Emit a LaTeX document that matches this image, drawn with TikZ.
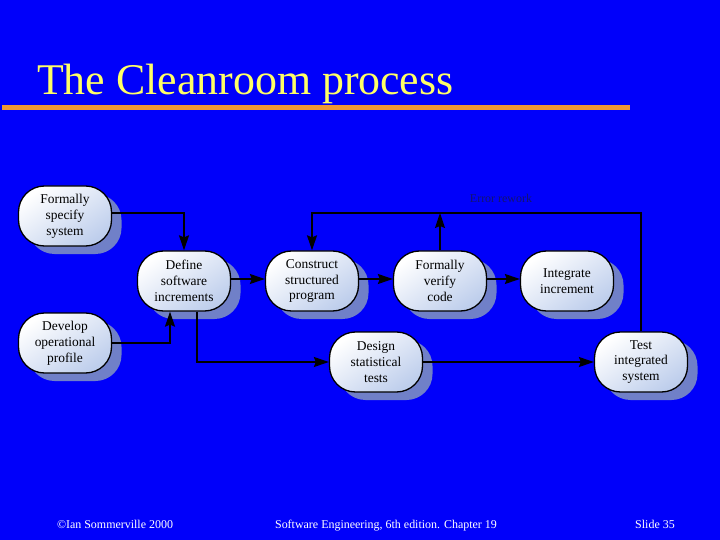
\documentclass[tikz,border=0pt]{standalone}
\usepackage{fontspec}
\setmainfont{Liberation Serif}
\usetikzlibrary{arrows.meta}
\usetikzlibrary{shadows}
\definecolor{slide-blue}{RGB}{0, 0, 250}
\definecolor{title-yellow}{RGB}{255, 255, 102}
\definecolor{rule-orange}{RGB}{238, 152, 52}
\definecolor{box-blue}{RGB}{190, 206, 236}
\definecolor{shade-blue}{RGB}{112, 128, 200}
\definecolor{label-navy}{RGB}{20, 20, 110}

\begin{document}
\begin{tikzpicture}[x=1bp, y=-1bp,
    stage/.style={draw=black, line width=1.3bp, rounded corners=26bp,
        minimum width=93bp, minimum height=60bp, align=center, inner sep=1bp,
        top color=white, bottom color=box-blue, shading angle=35,
        font=\fontsize{13.5}{16}\selectfont,
        drop shadow={shadow xshift=10bp, shadow yshift=-8bp, fill=shade-blue, opacity=1}},
    flow/.style={line width=1.5bp, -{Stealth[length=15bp, width=10bp, inset=2bp]}},
    foot/.style={text=white, anchor=base, inner sep=0, font=\fontsize{12}{14}\selectfont}]
                \useasboundingbox (0, 0) rectangle (720, 540);
                \fill[slide-blue] (0, 0) rectangle (720, 540);
                \node[anchor=base west, inner sep=0, text=title-yellow, font=\fontsize{44}{48}\selectfont] (title) at (37, 95) {The Cleanroom process};
                \fill[rule-orange] (2, 105) rectangle (630, 110);
                \node[stage] (spec) at (65, 216) {Formally\\specify\\system};
                \node[stage] (dev) at (65, 343) {Develop\\operational\\profile};
                \node[stage] (defn) at (184, 281) {Define\\software\\increments};
                \node[stage] (constr) at (312, 281) {Construct\\structured\\program};
                \node[stage] (verify) at (440, 281) {Formally\\verify\\code};
                \node[stage] (integ) at (567, 281) {Integrate\\increment};
                \node[stage] (design) at (376, 362) {Design\\statistical\\tests};
                \node[stage] (test) at (641, 362) {Test\\integrated\\system};
                \coordinate (rework) at (641, 213);
                \node[text=label-navy, font=\fontsize{12}{14}\selectfont] (lbl) at (501, 198) {Error rework};
                \draw[flow] (spec.east |- 0, 213) -| (defn.north);
                \draw[flow] (dev.east) -| ([xshift=-14bp]defn.south);
                \draw[flow] ([xshift=13bp]defn.south) |- (design.west);
                \draw[flow] (defn.east |- 0, 279) -- (constr.west |- 0, 279);
                \draw[flow] (constr.east |- 0, 279) -- (verify.west |- 0, 279);
                \draw[flow] (verify.east |- 0, 279) -- (integ.west |- 0, 279);
                \draw[flow] (design.east) -- (test.west);
                \draw[flow] (test.north) -- (rework) -| (constr.north);
                \draw[flow] (verify.north) -- (verify.north |- rework);
                \node[foot] (foot1) at (115, 528) {©Ian Sommerville 2000};
                \node[foot] (foot2) at (386, 528) {Software Engineering, 6th edition. Chapter 19};
                \node[foot] (foot3) at (655, 528) {Slide 35};
            \end{tikzpicture}
\end{document}
